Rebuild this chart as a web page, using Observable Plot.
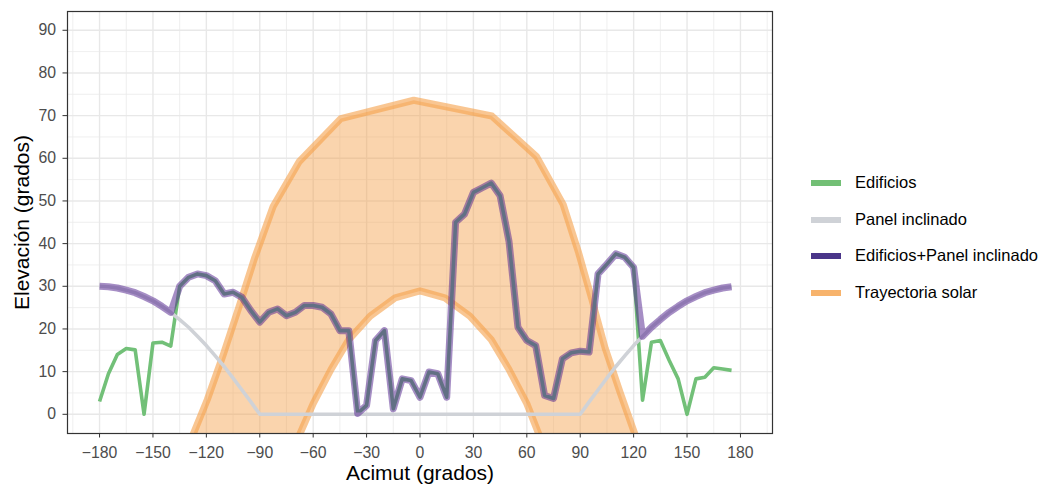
<!DOCTYPE html>
<html>
<head>
<meta charset="utf-8">
<script src="https://cdn.jsdelivr.net/npm/d3@7"></script>
<script src="https://cdn.jsdelivr.net/npm/@observablehq/plot@0.6"></script>
<style>
  body { margin: 0; background: white; font-family: "Liberation Sans", Arial, sans-serif; }
  #wrap { position: relative; width: 1047px; height: 486px; }
  #legend { position: absolute; left: 811px; top: 165px; }
  .row { position: relative; height: 36.7px; }
  .key { position: absolute; left: 0; top: 15px; width: 30px; height: 6px; }
  .lab { position: absolute; left: 44px; top: 7px; font-size: 16.5px; line-height: 20px; color: #000; white-space: nowrap; }
</style>
</head>
<body>
<div id="wrap"></div>
<script>
// ---- data ----
const azimuth = [-180,-175,-170,-165,-160,-155,-150,-145,-140,-135,-130,-125,-120,-115,-110,-105,-100,-95,-90,-85,-80,-75,-70,-65,-60,-55,-50,-45,-40,-35,-30,-25,-20,-15,-10,-5,0,5,10,15,20,25,30,35,40,45,50,55,60,65,70,75,80,85,90,95,100,105,110,115,120,125,130,135,140,145,150,155,160,165,170,175];
const buildings = [3,9.5,14,15.4,15.1,0,16.7,16.9,16,30,32.1,32.9,32.5,31.3,28.2,28.6,27.4,24.3,21.6,23.9,24.7,23.1,23.9,25.5,25.5,25.1,23.5,19.6,19.6,0.2,2.1,17.3,19.6,1.3,8.3,7.9,4,9.9,9.5,4,45,46.9,52,53.1,54.2,51.2,40.5,20.4,17.3,16.1,4.4,3.7,13,14.4,14.8,14.6,32.9,35.2,37.6,36.8,34.4,3.3,16.9,17.3,12.6,8.3,0,8.3,8.7,10.9,10.6,10.3];
const panel = [30,29.9,29.6,29.1,28.5,27.6,26.6,25.3,23.9,22.2,20.4,18.3,16.1,13.7,11.2,8.5,5.7,2.9,0,0,0,0,0,0,0,0,0,0,0,0,0,0,0,0,0,0,0,0,0,0,0,0,0,0,0,0,0,0,0,0,0,0,0,0,0,2.9,5.7,8.5,11.2,13.7,16.1,18.3,20.4,22.2,23.9,25.3,26.6,27.6,28.5,29.1,29.6,29.9];
const combined = [30,29.9,29.6,29.1,28.5,27.6,26.6,25.3,23.9,30,32.1,32.9,32.5,31.3,28.2,28.6,27.4,24.3,21.6,23.9,24.7,23.1,23.9,25.5,25.5,25.1,23.5,19.6,19.6,0.2,2.1,17.3,19.6,1.3,8.3,7.9,4,9.9,9.5,4,45,46.9,52,53.1,54.2,51.2,40.5,20.4,17.3,16.1,4.4,3.7,13,14.4,14.8,14.6,32.9,35.2,37.6,36.8,34.4,18.3,20.4,22.2,23.9,25.3,26.6,27.6,28.5,29.1,29.6,29.9];
const summerAz = [-129,-119.5,-110.5,-101.8,-93,-82.5,-67.9,-44.5,-3.5,40.4,65.5,80.4,89,96.5,104,112.5,121];
const summerEl = [-6.3,3.4,14,25,36.5,48.7,59.2,69.3,73.6,69.9,60.4,49.2,38,27,15.5,5,-5];
const winterAz = [-70,-60,-50,-40,-28,-14,0,14,28,40,50,60,68];
const winterEl = [-7,2.5,10.5,17.5,23,27.3,28.9,27.3,23,17.5,10.5,2.5,-6];
const xTicks = [-180,-150,-120,-90,-60,-30,0,30,60,90,120,150,180];
const xMinor = [-195,-165,-135,-105,-75,-45,-15,15,45,75,105,135,165,195];
const yTicks = [0,10,20,30,40,50,60,70,80,90];
const yMinor = [5,15,25,35,45,55,65,75,85];
const series = ["Edificios","Panel inclinado","Edificios+Panel inclinado","Trayectoria solar"];
const seriesColors = ["#72bf75","#cfd2d7","#4a3589","#f7b36c"];

// ---- tables ----
const table = (xs, ys) => xs.map((x, i) => ({x, y: ys[i]}));
const bTab = table(azimuth, buildings);
const pTab = table(azimuth, panel);
const cTab = table(azimuth, combined);
const sTab = table(summerAz, summerEl);
const wTab = table(winterAz, winterEl);
const polygon = sTab.concat(wTab.slice().reverse());

const lineOpts = {x: "x", y: "y", strokeLinecap: "butt", strokeLinejoin: "round"};

const chart = Plot.plot({
  width: 1047,
  height: 486,
  marginLeft: 67,
  marginRight: 275,
  marginTop: 11,
  marginBottom: 53,
  style: {fontFamily: "'Liberation Sans', Arial, sans-serif", background: "white", overflow: "visible"},
  x: {domain: [-198, 198]},
  y: {domain: [-4.5, 94.4]},
  marks: [
    Plot.ruleX(xMinor, {stroke: "#ebebeb", strokeWidth: 0.8}),
    Plot.ruleY(yMinor, {stroke: "#ebebeb", strokeWidth: 0.8}),
    Plot.ruleX(xTicks, {stroke: "#e8e8e8", strokeWidth: 1.4}),
    Plot.ruleY(yTicks, {stroke: "#e8e8e8", strokeWidth: 1.4}),
    Plot.line(polygon, {x: "x", y: "y", fill: "#f5a04a", fillOpacity: 0.45, stroke: "none", clip: true}),
    Plot.line(sTab, {...lineOpts, stroke: "#f5a04a", strokeOpacity: 0.6, strokeWidth: 7, clip: true}),
    Plot.line(wTab, {...lineOpts, stroke: "#f5a04a", strokeOpacity: 0.6, strokeWidth: 7, clip: true}),
    Plot.line(bTab, {...lineOpts, stroke: "#72c078", strokeWidth: 3.6}),
    Plot.line(pTab, {...lineOpts, stroke: "#cfd2d7", strokeWidth: 3.6}),
    Plot.line(cTab, {...lineOpts, stroke: "#54278f", strokeOpacity: 0.52, strokeWidth: 7}),
    Plot.frame({stroke: "#333333", strokeWidth: 1.2}),
    Plot.axisX(xTicks, {anchor: "bottom", tickSize: 4.5, tickPadding: 8.5, fontSize: 15.8, stroke: "#333333", fill: "#4d4d4d", label: null}),
    Plot.axisY(yTicks, {anchor: "left", tickSize: 4.5, tickPadding: 7, fontSize: 15.8, stroke: "#333333", fill: "#4d4d4d", label: null}),
    Plot.text(["Acimut (grados)"], {frameAnchor: "bottom", dy: 46, fontSize: 21, fill: "#000"}),
    Plot.text(["Elevación (grados)"], {frameAnchor: "left", dx: -45, rotate: -90, textAnchor: "middle", fontSize: 21, fill: "#000"})
  ]
});

const wrap = document.getElementById("wrap");
wrap.appendChild(chart);

const legend = document.createElement("div");
legend.id = "legend";
series.forEach((name, i) => {
  const row = document.createElement("div");
  row.className = "row";
  const key = document.createElement("div");
  key.className = "key";
  key.style.background = seriesColors[i];
  const lab = document.createElement("div");
  lab.className = "lab";
  lab.textContent = name;
  row.appendChild(key);
  row.appendChild(lab);
  legend.appendChild(row);
});
wrap.appendChild(legend);
</script>
</body>
</html>
